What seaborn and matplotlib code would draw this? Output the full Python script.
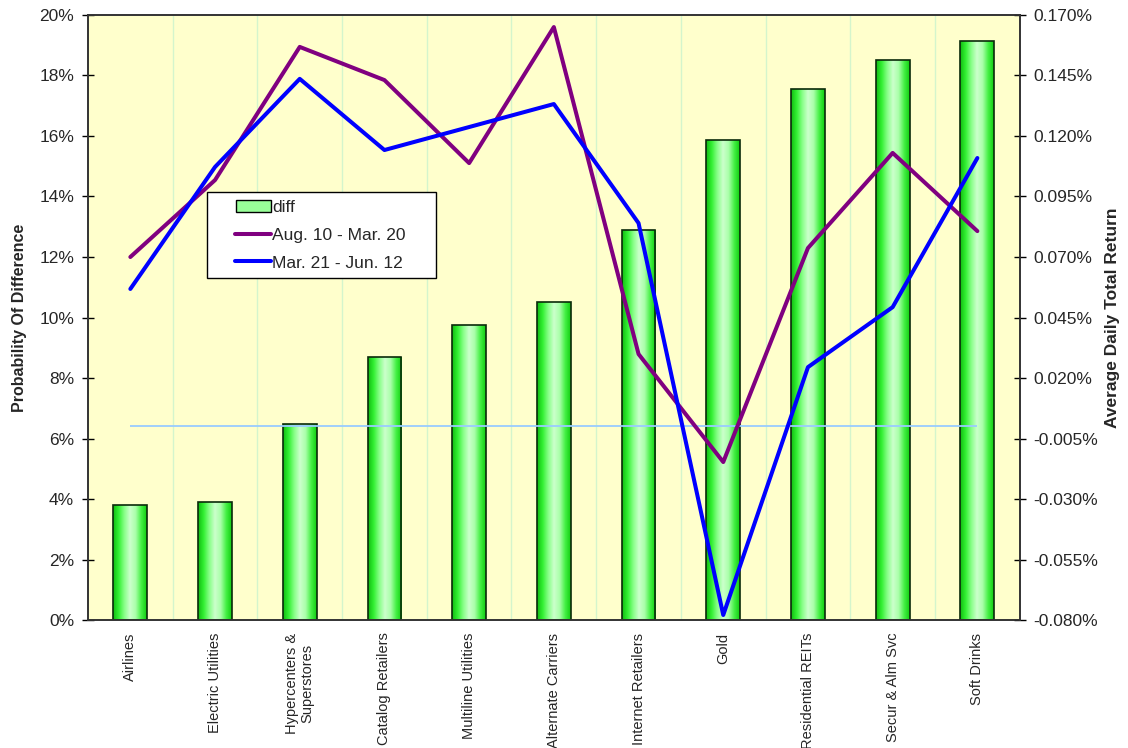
import numpy as np
import pandas as pd
import matplotlib
matplotlib.use("Agg")
import matplotlib.pyplot as plt
import seaborn as sns
from matplotlib.colors import LinearSegmentedColormap
from matplotlib.patches import Patch
from matplotlib.lines import Line2D
from matplotlib.legend_handler import HandlerLine2D, HandlerPatch

# ==============================
# DATA
# ==============================
industries = ["Airlines", "Electric Utilities", "Hypercenters &\nSuperstores", "Catalog Retailers",
              "Multiline Utilities", "Alternate Carriers", "Internet Retailers", "Gold",
              "Residential REITs", "Secur & Alm Svc", "Soft Drinks"]
prob_diff = [3.80, 3.90, 6.48, 8.69, 9.75, 10.51, 12.89, 15.87, 17.55, 18.51, 19.14]
ret_aug_mar = [0.0700, 0.1018, 0.1568, 0.1431, 0.1088, 0.1650, 0.0299, -0.0147, 0.0737, 0.1130, 0.0807]
ret_mar_jun = [0.0568, 0.1072, 0.1436, 0.1142, 0.1237, 0.1332, 0.0840, -0.0779, 0.0245, 0.0493, 0.1109]
right_ticks = [-0.080, -0.055, -0.030, -0.005, 0.020, 0.045, 0.070, 0.095, 0.120, 0.145, 0.170]

sns.set_style("white")
plt.rcParams['font.family'] = ['Liberation Sans', 'DejaVu Sans']

fig = plt.figure(figsize=(11.28, 7.48), dpi=100)
ax = fig.add_axes([0.078, 0.171, 0.826, 0.809])
ax.set_facecolor("#ffffcc")

df = pd.DataFrame({"industry": industries, "diff": prob_diff})
pos = np.arange(len(industries))

# ==============================
# BARS (with cylinder shading)
# ==============================
sns.barplot(data=df, x="industry", y="diff", ax=ax, color="#66ee66", width=0.4,
            edgecolor="#0a2a0a", linewidth=1.2, zorder=2)
shade = LinearSegmentedColormap.from_list(
    "cyl", ["#11bb11", "#33f033", "#88ff88", "#ccffcc", "#aaffaa", "#44f044", "#11cc11"])
grad = np.linspace(0, 1, 256).reshape(1, -1)
for bar in ax.patches:
    x0, y0 = bar.get_x(), bar.get_y()
    w, h = bar.get_width(), bar.get_height()
    im = ax.imshow(grad, cmap=shade, aspect="auto", extent=(x0, x0 + w, y0, y0 + h), zorder=2.5)
    im.set_clip_path(bar)
    bar.set_facecolor("none")
    bar.set_zorder(3)

ax.set_xlim(-0.5, len(industries) - 0.5)
ax.set_ylim(0, 20)
ax.set_yticks(np.arange(0, 21, 2))
ax.set_yticklabels([f"{v}%" for v in range(0, 21, 2)], fontsize=12.5)
ax.set_xticks(pos)
ax.set_xticklabels(industries, rotation=90, fontsize=10.5, va="top", ha="center", multialignment="center")
ax.set_xticks(np.arange(0.5, len(industries) - 0.5), minor=True)
ax.grid(which="minor", axis="x", color="#d4f5cc", linewidth=1, zorder=0)
ax.set_axisbelow(True)
ax.tick_params(axis="x", which="both", length=0, pad=9)
ax.tick_params(axis="y", direction="inout", length=8, width=1, color="black", left=True, pad=6)
ax.set_xlabel("")
ax.set_ylabel("Probability Of Difference", fontsize=11.5, fontweight="bold", labelpad=9)
for s in ax.spines.values():
    s.set_color("#333333")
    s.set_linewidth(1.2)

# ==============================
# LINES (right axis)
# ==============================
ax2 = ax.twinx()
ax2.patch.set_visible(False)
ax2.hlines(0, pos[0], pos[-1], color="#99ccff", linewidth=1.3, zorder=1)
sns.lineplot(x=pos, y=ret_aug_mar, ax=ax2, color="#800080", linewidth=2.9, zorder=4)
sns.lineplot(x=pos, y=ret_mar_jun, ax=ax2, color="#0000ff", linewidth=2.9, zorder=4)
ax2.set_ylim(right_ticks[0], right_ticks[-1])
ax2.set_yticks(right_ticks)
ax2.set_yticklabels([f"{v:.3f}%" for v in right_ticks], fontsize=12.5)
ax2.tick_params(axis="y", direction="inout", length=8, width=1, color="black", right=True, pad=6)
ax2.set_ylabel("Average Daily Total Return", fontsize=12.5, fontweight="bold", labelpad=5)
for s in ax2.spines.values():
    s.set_color("#333333")
    s.set_linewidth(1.2)

handles = [Patch(facecolor="#99ff99", edgecolor="black", label="diff"),
           Line2D([], [], color="#800080", linewidth=2.9, label="Aug. 10 - Mar. 20"),
           Line2D([], [], color="#0000ff", linewidth=2.9, label="Mar. 21 - Jun. 12")]
leg = ax2.legend(handles=handles, loc="upper left", bbox_to_anchor=(0.128, 0.564, 0.2457, 0.143),
                 mode="expand", fontsize=12.5, fancybox=False, framealpha=1, edgecolor="black",
                 borderpad=0.45, handlelength=3.2, labelspacing=0.72, handletextpad=0.1,
                 borderaxespad=0,
                 handler_map={Line2D: HandlerLine2D(xpad=1.15), Patch: HandlerPatch(xpad=1.2)})
leg.get_frame().set_linewidth(1.0)
leg.set_zorder(10)

plt.savefig("out.png", dpi=100)
